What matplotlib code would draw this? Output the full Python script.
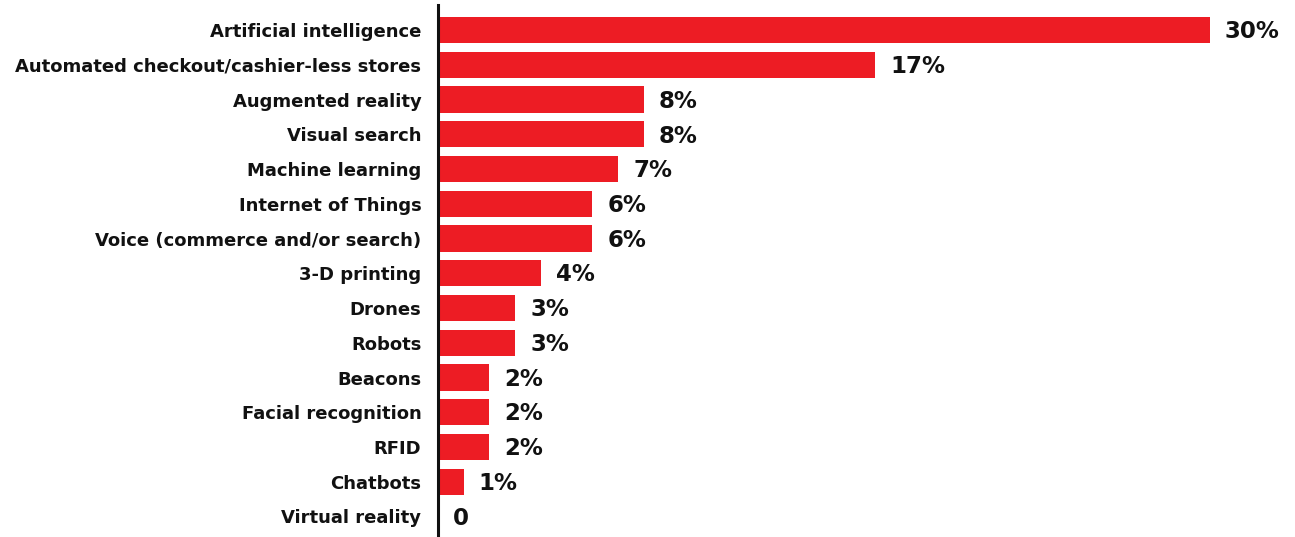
import matplotlib
matplotlib.use("Agg")
import matplotlib.pyplot as plt

categories = [
    "Artificial intelligence",
    "Automated checkout/cashier-less stores",
    "Augmented reality",
    "Visual search",
    "Machine learning",
    "Internet of Things",
    "Voice (commerce and/or search)",
    "3-D printing",
    "Drones",
    "Robots",
    "Beacons",
    "Facial recognition",
    "RFID",
    "Chatbots",
    "Virtual reality",
]
values = [30, 17, 8, 8, 7, 6, 6, 4, 3, 3, 2, 2, 2, 1, 0]
value_labels = ["30%", "17%", "8%", "8%", "7%", "6%", "6%", "4%", "3%", "3%",
                "2%", "2%", "2%", "1%", "0"]

plt.rcParams['font.family'] = ['DejaVu Sans']

W, H = 1295, 537
fig = plt.figure(figsize=(W / 100, H / 100), dpi=100)
left_px = 438
ax = fig.add_axes([left_px / W, 0, (W - left_px) / W, (H - 5) / H])

ypos = list(range(len(categories)))
ax.barh(ypos, values, height=0.75, color="#ED1C24", zorder=2)

px_per_unit = 25.73
ax.set_xlim(0, (W - left_px) / px_per_unit)
ax.set_ylim(14.59, -0.72)

for y, v, lab in zip(ypos, values, value_labels):
    ax.text(v + 0.58, y + 0.05, lab, va="center", ha="left",
            fontsize=16.5, fontweight="bold", color="#111111")

ax.set_yticks(ypos)
ax.set_yticklabels(categories, fontsize=13, fontweight="bold", color="#111111")
ax.tick_params(axis="y", length=0, pad=12)
ax.set_xticks([])

for side in ["top", "right", "bottom"]:
    ax.spines[side].set_visible(False)
ax.spines["left"].set_linewidth(2.2)
ax.spines["left"].set_color("#111111")

fig.savefig("out.png", dpi=100)
